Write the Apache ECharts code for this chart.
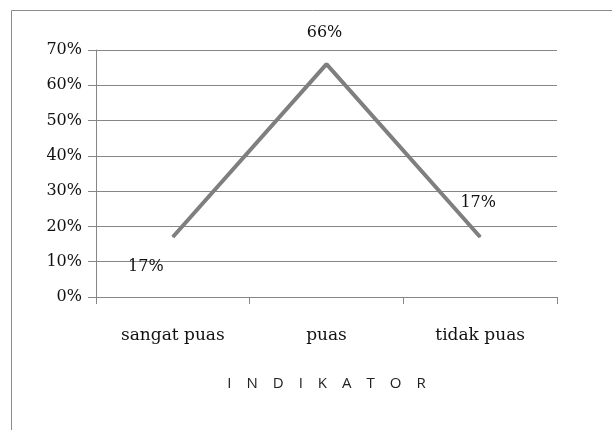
<!DOCTYPE html>
<html>
<head>
<meta charset="utf-8">
<script src="https://cdn.jsdelivr.net/npm/echarts@6/dist/echarts.min.js"></script>
<style>
  html, body { margin: 0; padding: 0; background: #fff; }
  #chart { width: 612px; height: 430px; }
</style>
</head>
<body>
<div id="chart"></div>
<script>
// data
const categories = ['sangat puas', 'puas', 'tidak puas']
const values = [17, 66, 17]
const yTicks = { min: 0, max: 70, step: 10 }
const axisTitle = 'I\u2003N\u2003D\u2003I\u2003K\u2003A\u2003T\u2003O\u2003R'

// where each value label sits relative to its point
const labelOffsets = [[-27, 30], [-2, -31], [-2, -34]]

const chart = echarts.init(document.getElementById('chart'))

const option = {
  animation: false,
  graphic: [
    {
      type: 'rect',
      shape: { x: 11.5, y: 10.5, width: 700, height: 500 },
      style: { fill: 'none', stroke: '#8c8c8c', lineWidth: 1 },
      silent: true
    }
  ],
  grid: { left: 96, top: 50, right: 55, bottom: 133 },
  xAxis: {
    type: 'category',
    data: categories,
    boundaryGap: true,
    name: axisTitle,
    nameLocation: 'middle',
    nameGap: 79,
    nameTextStyle: { fontFamily: 'Open Sans', fontSize: 15, color: '#222', fontWeight: 'normal' },
    axisLine: { lineStyle: { color: '#868686', width: 1 } },
    axisTick: { show: true, length: 7, alignWithLabel: false, lineStyle: { color: '#868686' } },
    axisLabel: { margin: 30, fontFamily: 'DejaVu Serif', fontSize: 17, color: '#111' },
    splitLine: { show: false }
  },
  yAxis: {
    type: 'value',
    min: yTicks.min,
    max: yTicks.max,
    interval: yTicks.step,
    axisLine: { show: true, lineStyle: { color: '#868686', width: 1 } },
    axisTick: { show: true, length: 8, inside: false, lineStyle: { color: '#868686' } },
    axisLabel: { formatter: '{value}%', margin: 14, fontFamily: 'DejaVu Serif', fontSize: 16, color: '#111' },
    splitLine: { show: true, lineStyle: { color: '#868686', width: 1 } }
  },
  series: [
    {
      type: 'line',
      data: values.map((v, i) => ({
        value: v,
        label: { offset: labelOffsets[i] }
      })),
      showSymbol: true,
      symbol: 'circle',
      symbolSize: 1,
      itemStyle: { color: '#7f7f7f' },
      lineStyle: { color: '#7f7f7f', width: 4 },
      label: {
        show: true,
        position: 'inside',
        formatter: '{c}%',
        fontFamily: 'DejaVu Serif',
        fontSize: 16,
        color: '#111'
      }
    }
  ]
}

chart.setOption(option)
</script>
</body>
</html>
